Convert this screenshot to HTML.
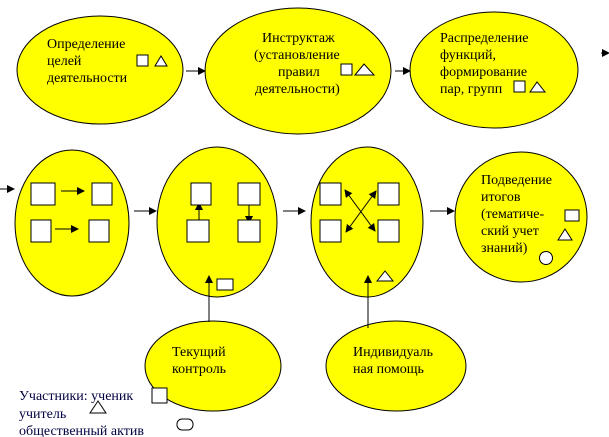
<!DOCTYPE html>
<html><head><meta charset="utf-8"><style>
html,body{margin:0;padding:0;background:#fff;width:609px;height:437px;overflow:hidden}
svg{display:block}
</style></head><body>
<svg width="609" height="437" viewBox="0 0 609 437" xmlns="http://www.w3.org/2000/svg">
<defs><marker id="a" markerWidth="8" markerHeight="8" refX="7" refY="4" orient="auto" markerUnits="userSpaceOnUse"><path d="M0,0 L8,4 L0,8 z" fill="#000"/></marker>
<marker id="s" markerWidth="8" markerHeight="8" refX="1" refY="4" orient="auto" markerUnits="userSpaceOnUse"><path d="M8,0 L0,4 L8,8 z" fill="#000"/></marker></defs>
<g fill="#ffff00" stroke="#000" stroke-width="1">
<ellipse cx="100" cy="70" rx="83" ry="54"/>
<ellipse cx="298" cy="71" rx="93" ry="63"/>
<ellipse cx="494" cy="70" rx="84" ry="58"/>
<ellipse cx="72" cy="223" rx="57" ry="73"/>
<ellipse cx="217" cy="222" rx="60" ry="75"/>
<ellipse cx="367" cy="222" rx="56" ry="75"/>
<ellipse cx="521" cy="217" rx="66" ry="65"/>
<ellipse cx="213" cy="366" rx="68" ry="45"/>
<ellipse cx="396" cy="366" rx="70" ry="45"/>
</g>
<g stroke="#000" stroke-width="1" fill="none">
<line x1="186" y1="71" x2="205" y2="71" marker-end="url(#a)"/>
<line x1="395" y1="71" x2="410" y2="71" marker-end="url(#a)"/>
<line x1="601" y1="53" x2="609" y2="53" marker-end="url(#a)"/>
<line x1="0" y1="189" x2="14" y2="189" marker-end="url(#a)"/>
<line x1="134" y1="211" x2="156" y2="211" marker-end="url(#a)"/>
<line x1="283" y1="211" x2="305" y2="211" marker-end="url(#a)"/>
<line x1="430" y1="211" x2="454" y2="211" marker-end="url(#a)"/>
<line x1="61" y1="191" x2="84" y2="191" marker-end="url(#a)"/>
<line x1="55" y1="229" x2="78" y2="229" marker-end="url(#a)"/>
<line x1="199" y1="224" x2="199" y2="203" marker-end="url(#a)"/>
<line x1="249" y1="202" x2="249" y2="223" marker-end="url(#a)"/>
<line x1="345" y1="190" x2="375" y2="231" marker-start="url(#s)" marker-end="url(#a)"/>
<line x1="346" y1="232" x2="376" y2="191" marker-start="url(#s)" marker-end="url(#a)"/>
<line x1="209" y1="322" x2="209" y2="276" marker-end="url(#a)"/>
<line x1="368" y1="328" x2="368" y2="276" marker-end="url(#a)"/>
</g>
<g fill="#fff" stroke="#000" stroke-width="1">
<rect x="137" y="55" width="11" height="11"/><path d="M155,66 L161,56 L167,66 z"/>
<rect x="341" y="64" width="11" height="11"/><path d="M355,75 L364,64 L374,75 z"/>
<rect x="514" y="81" width="11" height="11"/><path d="M530,92 L537,82 L545,92 z"/>
<rect x="31" y="183" width="24" height="22"/><rect x="92" y="183" width="20" height="22"/>
<rect x="31" y="220" width="20" height="22"/><rect x="89" y="220" width="20" height="22"/>
<rect x="191" y="183" width="20" height="22"/><rect x="238" y="183" width="22" height="22"/>
<rect x="187" y="220" width="22" height="22"/><rect x="238" y="220" width="22" height="22"/>
<rect x="320" y="183" width="21" height="22"/><rect x="378" y="183" width="21" height="22"/>
<rect x="320" y="220" width="21" height="22"/><rect x="378" y="220" width="21" height="22"/>
<rect x="217" y="279" width="16" height="11"/>
<path d="M377,281 L385,271 L393,281 z"/>
<rect x="565" y="210" width="14" height="11"/>
<path d="M558,240 L565,229 L572,240 z"/>
<circle cx="546" cy="258" r="6.5"/>
<rect x="152" y="388" width="15" height="15"/>
<path d="M90,413 L98,401 L106,413 z"/>
<rect x="177" y="419" width="16" height="11" rx="5"/>
</g>
<g font-family="'Liberation Serif', 'DejaVu Serif', serif" font-size="14" fill="#000">
<text x="47" y="48">Определение</text>
<text x="47" y="65">целей</text>
<text x="47" y="82">деятельности</text>
<text x="262" y="42">Инструктаж</text>
<text x="254" y="59">(установление</text>
<text x="278" y="76">правил</text>
<text x="255" y="93">деятельности)</text>
<text x="440" y="42">Распределение</text>
<text x="440" y="59">функций,</text>
<text x="440" y="76">формирование</text>
<text x="440" y="93">пар, групп</text>
<text x="481" y="184">Подведение</text>
<text x="481" y="201">итогов</text>
<text x="481" y="218">(тематиче-</text>
<text x="481" y="235">ский учет</text>
<text x="481" y="252">знаний)</text>
<text x="172" y="356">Текущий</text>
<text x="172" y="373">контроль</text>
<text x="353" y="356">Индивидуаль</text>
<text x="353" y="373">ная помощь</text>
<text x="19" y="400" fill="#000040">Участники: ученик</text>
<text x="19" y="418" fill="#000040">учитель</text>
<text x="19" y="435" fill="#000040">общественный актив</text>
</g>
</svg>
</body></html>
